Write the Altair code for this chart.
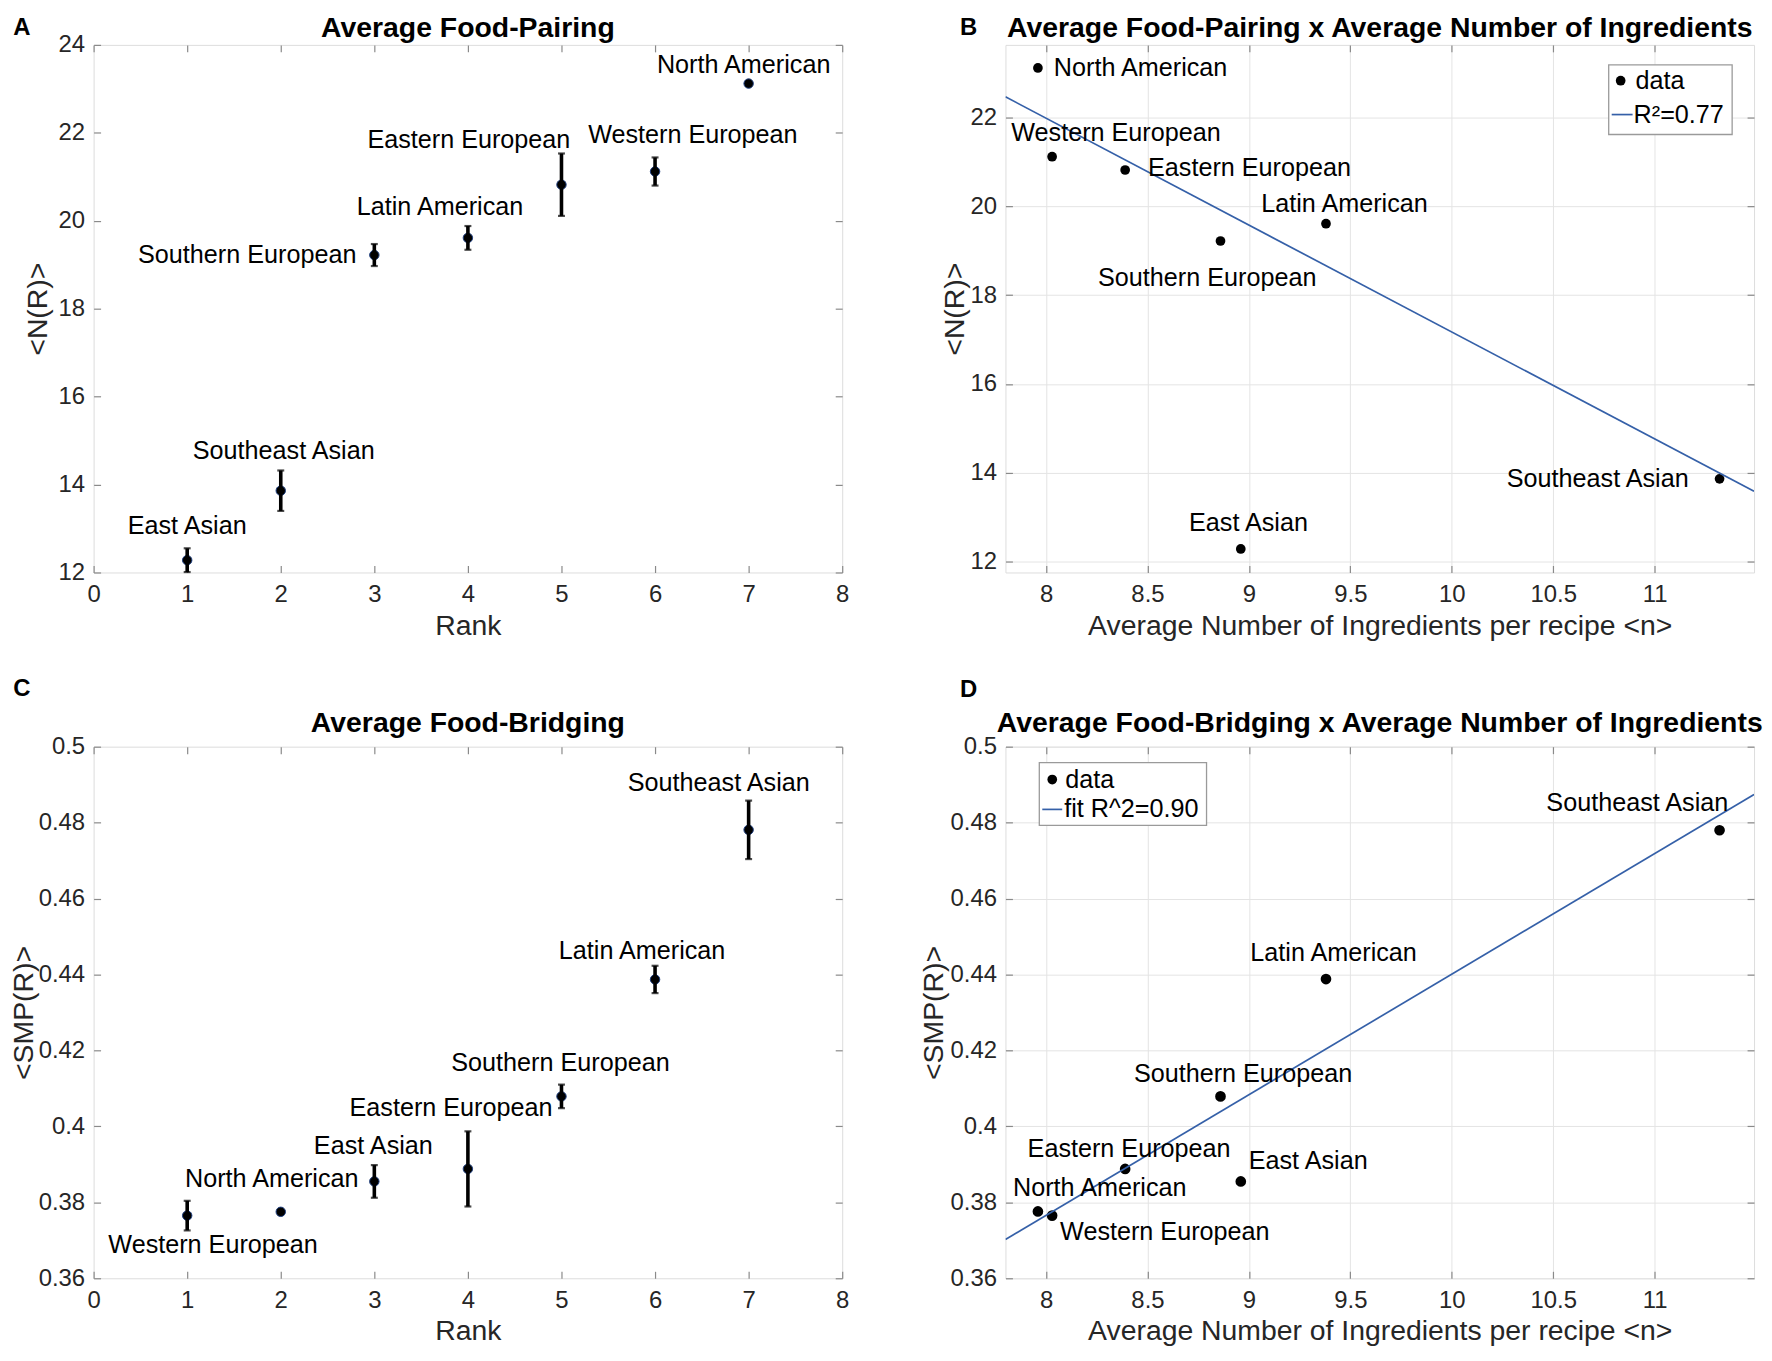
import altair as alt
import pandas as pd

FONT = "Liberation Sans"
FRAME = "#8a8a8a"
GRID = "#e4e4e4"
TXT = "#262626"
BLUE = "#3560a8"

# ------------------------------------------------------------------ data
pair_cuisine = ["East Asian", "Southeast Asian", "Southern European", "Latin American",
                "Eastern European", "Western European", "North American"]
pair_rank = [1, 2, 3, 4, 5, 6, 7]
pair_mean = [12.28, 13.86, 19.22, 19.61, 20.82, 21.12, 23.12]
pair_err = [0.27, 0.46, 0.25, 0.27, 0.71, 0.32, 0.04]

bridge_cuisine = ["Western European", "North American", "East Asian", "Eastern European",
                  "Southern European", "Latin American", "Southeast Asian"]
bridge_rank = [1, 2, 3, 4, 5, 6, 7]
bridge_mean = [0.3765, 0.3775, 0.3855, 0.3888, 0.4079, 0.4387, 0.4781]
bridge_err = [0.0039, 0.0003, 0.0043, 0.0099, 0.0031, 0.0036, 0.0077]

ingr_cuisine = ["North American", "Western European", "Eastern European", "Southern European",
                "East Asian", "Latin American", "Southeast Asian"]
avg_ingredients = [7.96, 8.03, 8.39, 8.86, 8.96, 9.38, 11.32]
pair_by_ingr = [23.12, 21.12, 20.82, 19.22, 12.28, 19.61, 13.86]
bridge_by_ingr = [0.3776, 0.3765, 0.3888, 0.4079, 0.3855, 0.4388, 0.4780]

fit_x = [7.8, 11.49]
fit_pair = [22.47, 13.58]
fit_bridge = [0.3702, 0.4874]

rank_ticks = [0, 1, 2, 3, 4, 5, 6, 7, 8]
pair_ticks = [12, 14, 16, 18, 20, 22, 24]
pair_ticks_b = [12, 14, 16, 18, 20, 22]
bridge_ticks = [0.36, 0.38, 0.40, 0.42, 0.44, 0.46, 0.48, 0.50]
ingr_ticks = [8, 8.5, 9, 9.5, 10, 10.5, 11]

rank_domain = [0, 8]
pair_domain = [12, 24]
pair_domain_b = [11.75, 23.64]
bridge_domain = [0.36, 0.50]
ingr_domain = [7.8, 11.49]

# ------------------------------------------------------------------ styles (label placement, px)
LAB_A = {"East Asian": ("center", 0, -34), "Southeast Asian": ("center", 3, -40),
         "Southern European": ("right", -18, 0), "Latin American": ("center", -28, -31),
         "Eastern European": ("center", -93, -45), "Western European": ("center", 38, -37),
         "North American": ("center", -5, -19)}
LAB_B = {"North American": ("left", 16, 0), "Western European": ("left", -41, -24),
         "Eastern European": ("left", 23, -2), "Latin American": ("left", -65, -20),
         "Southern European": ("left", -123, 37), "East Asian": ("left", -52, -26),
         "Southeast Asian": ("right", -31, 0)}
LAB_C = {"Western European": ("center", 26, 30), "North American": ("center", -9, -33),
         "East Asian": ("center", -1, -36), "Eastern European": ("center", -17, -61),
         "Southern European": ("center", -1, -34), "Latin American": ("center", -13, -29),
         "Southeast Asian": ("center", -30, -47)}
LAB_D = {"Southeast Asian": ("left", -174, -27), "Latin American": ("left", -76, -26),
         "Southern European": ("left", -87, -22), "Eastern European": ("left", -98, -20),
         "East Asian": ("left", 8, -20), "North American": ("left", -25, -24),
         "Western European": ("left", 8, 16)}

W = 752
H_TOP, H_BOT = 530, 534
INWARD = {"expr": "-7"}
LBL = 25.3
ONE = pd.DataFrame({"k": [0]})


def axis(orient, values, fmt, title=None, grid=False, title_pad=6, label_pad=16):
    kw = dict(orient=orient, values=values, tickSize=INWARD, tickColor=FRAME, tickWidth=1.2,
              domain=False, grid=grid, gridColor=GRID, gridWidth=1, title=title,
              labelFont=FONT, labelFontSize=24, labelColor=TXT, labelPadding=label_pad,
              titleFont=FONT, titleFontSize=28.5, titleFontWeight="normal", titleColor=TXT,
              titlePadding=title_pad, labelFlush=False, labelOverlap=False)
    if fmt:
        kw["format"] = fmt
    return alt.Axis(**kw)


def frame_axis(orient, values):
    return alt.Axis(orient=orient, values=values, tickSize=INWARD, tickColor=FRAME, tickWidth=1.2,
                    domain=False, grid=False, labels=False, title=None, labelPadding=0,
                    labelFontSize=1, minExtent=0, maxExtent=0)


def deco(letter, lx, ly, title, ty):
    return [
        alt.Chart(ONE).mark_text(font=FONT, fontSize=24, fontWeight="bold", color="black",
                                 align="center", baseline="middle")
        .encode(x=alt.value(lx), y=alt.value(ly), text=alt.value(letter)),
        alt.Chart(ONE).mark_text(font=FONT, fontSize=28.5, fontWeight="bold", color="black",
                                 align="center", baseline="middle")
        .encode(x=alt.value(W / 2), y=alt.value(ty), text=alt.value(title)),
    ]


def labels(df, xf, yf, xs, ys, styles):
    out = []
    for name, (al, dx, dy) in styles.items():
        out.append(
            alt.Chart(df).transform_filter(alt.datum.name == name)
            .mark_text(font=FONT, fontSize=LBL, color="black", align=al, baseline="middle", dx=dx, dy=dy)
            .encode(x=alt.X(xf, type="quantitative", scale=xs, axis=None),
                    y=alt.Y(yf, type="quantitative", scale=ys, axis=None),
                    text="name:N"))
    return out


def frame_ticks(df, xf, yf, xs, ys, xt, yt):
    return alt.Chart(df).mark_point(opacity=0).encode(
        x=alt.X(xf, type="quantitative", scale=xs, axis=frame_axis("top", xt)),
        y=alt.Y(yf, type="quantitative", scale=ys, axis=frame_axis("right", yt)))


def rank_panel(names, ranks, means, errs, ydom, yticks, yfmt, ytitle, ytpad, styles,
               letter, lx, ly, title, ty, H):
    df = pd.DataFrame({"name": names, "rank": ranks, "mean": means,
                       "lo": [m - e for m, e in zip(means, errs)],
                       "hi": [m + e for m, e in zip(means, errs)]})
    xs = alt.Scale(domain=rank_domain, nice=False, zero=False)
    ys = alt.Scale(domain=ydom, nice=False, zero=False)
    base = alt.Chart(df)
    bars = base.mark_rule(color="black", strokeWidth=3.6).encode(
        x=alt.X("rank:Q", scale=xs, axis=None), y=alt.Y("lo:Q", scale=ys, axis=None), y2="hi:Q")
    cap_lo = base.mark_point(shape="stroke", size=49, color="black", strokeWidth=2.2, filled=False).encode(
        x=alt.X("rank:Q", scale=xs, axis=None), y=alt.Y("lo:Q", scale=ys, axis=None))
    cap_hi = base.mark_point(shape="stroke", size=49, color="black", strokeWidth=2.2, filled=False).encode(
        x=alt.X("rank:Q", scale=xs, axis=None), y=alt.Y("hi:Q", scale=ys, axis=None))
    pts = base.mark_circle(size=90, color="black", stroke="#1f3f80", strokeWidth=1, opacity=1).encode(
        x=alt.X("rank:Q", scale=xs, axis=axis("bottom", rank_ticks, "d", "Rank", label_pad=17, title_pad=5)),
        y=alt.Y("mean:Q", scale=ys, axis=axis("left", yticks, yfmt, ytitle, title_pad=ytpad)))
    layers = [pts, bars, cap_lo, cap_hi]
    layers += labels(df, "rank", "mean", xs, ys, styles)
    layers.append(frame_ticks(df, "rank", "mean", xs, ys, rank_ticks, yticks))
    layers += deco(letter, lx, ly, title, ty)
    return alt.layer(*layers).resolve_axis(x="independent", y="independent").properties(width=W, height=H)


def scatter_panel(yvals, ydom, yticks, yfmt, ytitle, ytpad, fity, size, styles, letter, lx, ly, title, ty,
                  legend_box, legend_items, H):
    df = pd.DataFrame({"name": ingr_cuisine, "x": avg_ingredients, "y": yvals})
    dfit = pd.DataFrame({"x": fit_x, "y": fity})
    xs = alt.Scale(domain=ingr_domain, nice=False, zero=False)
    ys = alt.Scale(domain=ydom, nice=False, zero=False)
    pts = alt.Chart(df).mark_circle(size=size, color="black", opacity=1).encode(
        x=alt.X("x:Q", scale=xs, axis=axis("bottom", ingr_ticks, ".1~f",
                                           "Average Number of Ingredients per recipe <n>",
                                           grid=True, label_pad=17, title_pad=5)),
        y=alt.Y("y:Q", scale=ys, axis=axis("left", yticks, yfmt, ytitle, grid=True, title_pad=ytpad)))
    line = alt.Chart(dfit).mark_line(color=BLUE, strokeWidth=1.7, clip=True).encode(
        x=alt.X("x:Q", scale=xs, axis=None), y=alt.Y("y:Q", scale=ys, axis=None))
    layers = [pts, line]
    layers += labels(df, "x", "y", xs, ys, styles)
    layers.append(frame_ticks(df, "x", "y", xs, ys, ingr_ticks, yticks))
    # legend box
    x1, x2, y1, y2 = legend_box
    layers.append(alt.Chart(ONE).mark_rect(fill="white", stroke="#9a9a9a", strokeWidth=1.3).encode(
        x=alt.value(x1), x2=alt.value(x2), y=alt.value(y1), y2=alt.value(y2)))
    (dx_, dy_, dtx), (lx1, lx2, ly_, ltx), (t1, t2) = legend_items
    layers.append(alt.Chart(ONE).mark_circle(size=95, color="black", opacity=1).encode(
        x=alt.value(dx_), y=alt.value(dy_)))
    layers.append(alt.Chart(ONE).mark_rule(color=BLUE, strokeWidth=1.7).encode(
        x=alt.value(lx1), x2=alt.value(lx2), y=alt.value(ly_)))
    layers.append(alt.Chart(ONE).mark_text(font=FONT, fontSize=LBL, color="black", align="left",
                                           baseline="middle").encode(
        x=alt.value(dtx), y=alt.value(dy_), text=alt.value(t1)))
    layers.append(alt.Chart(ONE).mark_text(font=FONT, fontSize=LBL, color="black", align="left",
                                           baseline="middle").encode(
        x=alt.value(ltx), y=alt.value(ly_), text=alt.value(t2)))
    layers += deco(letter, lx, ly, title, ty)
    return alt.layer(*layers).resolve_axis(x="independent", y="independent").properties(width=W, height=H)


A = rank_panel(pair_cuisine, pair_rank, pair_mean, pair_err, pair_domain, pair_ticks, "d", "<N(R)>", 6,
               LAB_A, "A", -72, -17, "Average Food-Pairing", -17, H_TOP)
C = rank_panel(bridge_cuisine, bridge_rank, bridge_mean, bridge_err, bridge_domain, bridge_ticks, ".2~f",
               "<SMP(R)>", 0, LAB_C, "C", -72, -58, "Average Food-Bridging", -24, H_BOT)
B = scatter_panel(pair_by_ingr, pair_domain_b, pair_ticks_b, "d", "<N(R)>", 0, fit_pair, 95, LAB_B,
                  "B", -37, -17, "Average Food-Pairing x Average Number of Ingredients", -17,
                  (606, 730, 20, 90), ((618, 36, 633), (609, 630, 70, 631), ("data", "R\u00b2=0.77")), H_TOP)
D = scatter_panel(bridge_by_ingr, bridge_domain, bridge_ticks, ".2~f", "<SMP(R)>", 2, fit_bridge, 115, LAB_D,
                  "D", -37, -57, "Average Food-Bridging x Average Number of Ingredients", -24,
                  (34, 202, 16, 79), ((47, 33, 60), (37, 57, 63, 59), ("data", "fit R^2=0.90")), H_BOT)

chart = alt.concat(A, B, C, D, columns=2, spacing={"row": 36, "column": 68}).properties(
    padding={"top": 2, "left": 0, "right": 0, "bottom": 0}
).configure_view(stroke=FRAME, strokeWidth=1.5).configure(background="white")

chart.save("out.html", embed_options={"renderer": "svg", "actions": False})
